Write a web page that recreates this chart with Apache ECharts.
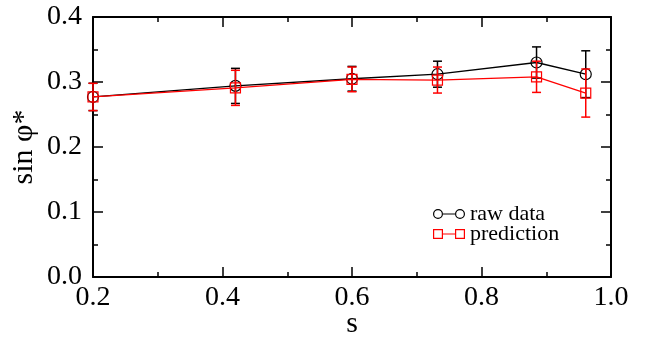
<!DOCTYPE html>
<html>
<head>
<meta charset="utf-8">
<script src="https://cdn.jsdelivr.net/npm/echarts@6/dist/echarts.min.js"></script>
<style>
  html, body { margin: 0; padding: 0; background: #fff; }
  #chart { width: 655px; height: 338px; }
</style>
</head>
<body>
<div id="chart"></div>
<script>
// s values of the points
const sValues = [0.2, 0.42, 0.6, 0.732, 0.885, 0.961];
// raw data and its error bars
const rawData = [0.277, 0.294, 0.305, 0.312, 0.330, 0.312];
const rawErr = [0.021, 0.027, 0.019, 0.020, 0.024, 0.036];
// prediction and its error bars
const predData = [0.277, 0.291, 0.304, 0.303, 0.308, 0.283];
const predErr = [0.021, 0.027, 0.019, 0.020, 0.024, 0.037];

const FONT = 'Liberation Serif';
const RED = '#ff0000';

// legend icons: symbol - line - symbol
const ringIcon = 'path://M0,5A5,5 0 1,1 10,5A5,5 0 1,1 0,5Z M1.2,5A3.8,3.8 0 1,0 8.8,5A3.8,3.8 0 1,0 1.2,5Z' +
  'M10,4.4L22,4.4L22,5.6L10,5.6Z' +
  'M22,5A5,5 0 1,1 32,5A5,5 0 1,1 22,5Z M23.2,5A3.8,3.8 0 1,0 30.8,5A3.8,3.8 0 1,0 23.2,5Z';
const boxIcon = 'path://M0,0L10,0L10,10L0,10Z M1.2,1.2L1.2,8.8L8.8,8.8L8.8,1.2Z' +
  'M10,4.4L22,4.4L22,5.6L10,5.6Z' +
  'M22,0L32,0L32,10L22,10Z M23.2,1.2L23.2,8.8L30.8,8.8L30.8,1.2Z';

function pairs(ys) {
  return sValues.map((x, i) => [x, ys[i]]);
}

function errorBars(name, ys, errs, color, z) {
  return {
    name: name,
    type: 'custom',
    z: z,
    silent: true,
    data: sValues.map((x, i) => [x, ys[i] - errs[i], ys[i] + errs[i]]),
    renderItem: (params, api) => {
      const top = api.coord([api.value(0), api.value(2)]);
      const bot = api.coord([api.value(0), api.value(1)]);
      const w = 4.5;
      const st = { stroke: color, lineWidth: 1.5 };
      return {
        type: 'group',
        children: [
          { type: 'line', shape: { x1: top[0], y1: top[1], x2: bot[0], y2: bot[1] }, style: st },
          { type: 'line', shape: { x1: top[0] - w, y1: top[1], x2: top[0] + w, y2: top[1] }, style: st },
          { type: 'line', shape: { x1: bot[0] - w, y1: bot[1], x2: bot[0] + w, y2: bot[1] }, style: st },
        ],
      };
    },
  };
}

function frameAxis(pos, isX, main) {
  const ax = {
    type: 'value',
    position: pos,
    min: isX ? 0.2 : 0,
    max: isX ? 1.0 : 0.4,
    interval: isX ? 0.2 : 0.1,
    axisLine: { show: true, onZero: false, lineStyle: { color: '#000', width: 2 } },
    axisTick: { show: true, inside: true, length: 10, lineStyle: { color: '#000', width: 1.5 } },
    minorTick: { show: true, splitNumber: 2, length: 5, lineStyle: { color: '#000', width: 1.5 } },
    splitLine: { show: false },
    axisLabel: { show: false },
  };
  if (main) {
    ax.axisLabel = {
      show: true,
      color: '#000',
      fontFamily: FONT,
      fontSize: 28,
      margin: isX ? 7 : 11,
      formatter: (v) => v.toFixed(1),
      showMinLabel: true,
      showMaxLabel: true,
    };
    ax.name = isX ? 's' : 'sin φ*';
    ax.nameLocation = 'middle';
    ax.nameGap = isX ? 32 : 54;
    ax.nameMoveOverlap = false;
    ax.nameTextStyle = { color: '#000', fontFamily: FONT, fontSize: 30 };
  }
  return ax;
}

const chart = echarts.init(document.getElementById('chart'));

const option = {
  animation: false,
  backgroundColor: '#fff',
  grid: { left: 93, right: 44, top: 17, bottom: 61, outerBoundsMode: 'none', containLabel: false },
  xAxis: [frameAxis('bottom', true, true), frameAxis('top', true, false)],
  yAxis: [frameAxis('left', false, true), frameAxis('right', false, false)],
  legend: {
    orient: 'vertical',
    left: 433,
    top: 203,
    padding: 0,
    itemWidth: 32,
    itemHeight: 10,
    itemGap: -2,
    textStyle: { color: '#000', fontFamily: FONT, fontSize: 22 },
    data: [
      { name: 'raw data', icon: ringIcon, itemStyle: { color: '#000', borderWidth: 0 } },
      { name: 'prediction', icon: boxIcon, itemStyle: { color: RED, borderWidth: 0 } },
    ],
  },
  series: [
    errorBars('rawErr', rawData, rawErr, '#000', 2),
    {
      name: 'raw data',
      type: 'line',
      z: 3,
      data: pairs(rawData),
      symbol: 'circle',
      symbolSize: 11,
      lineStyle: { color: '#000', width: 1.3 },
      itemStyle: { color: 'transparent', borderColor: '#000', borderWidth: 1.2 },
    },
    errorBars('predErr', predData, predErr, RED, 4),
    {
      name: 'prediction',
      type: 'line',
      z: 5,
      data: pairs(predData),
      symbol: 'rect',
      symbolSize: 10,
      lineStyle: { color: RED, width: 1.3 },
      itemStyle: { color: 'transparent', borderColor: RED, borderWidth: 1.2 },
    },
  ],
};

chart.setOption(option);
</script>
</body>
</html>
